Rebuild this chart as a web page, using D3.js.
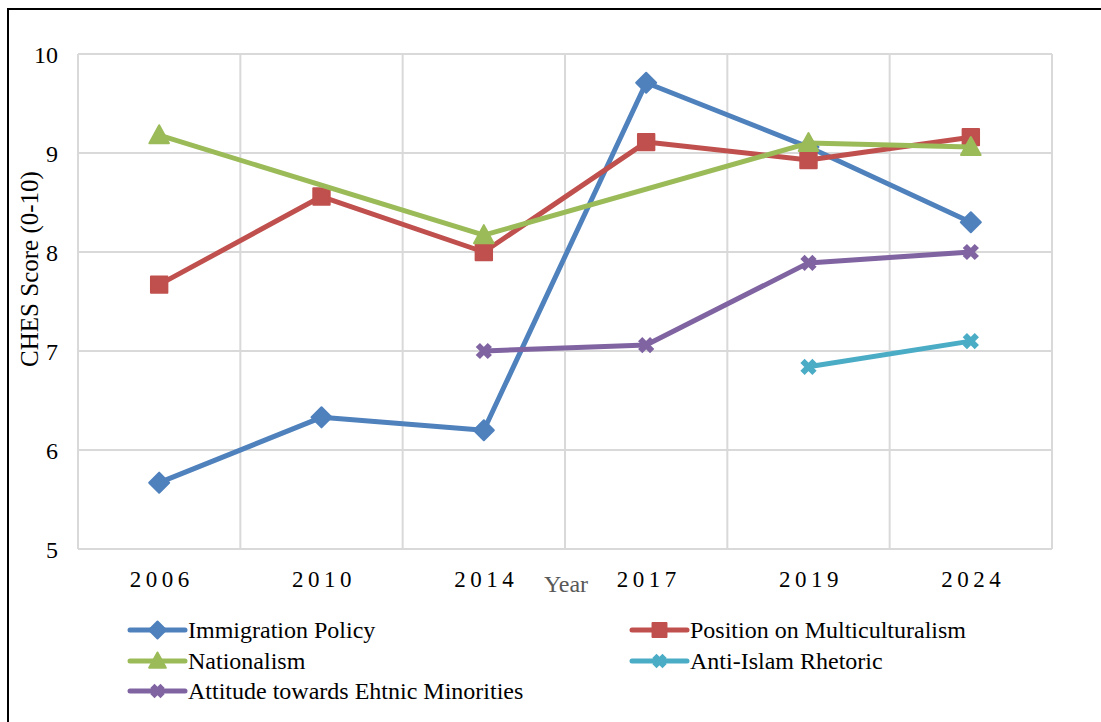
<!DOCTYPE html>
<html><head><meta charset="utf-8">
<script src="https://cdn.jsdelivr.net/npm/d3@7"></script>
<style>
html,body{margin:0;padding:0;background:#fff;}
svg{display:block;}
text{font-family:"Liberation Serif","Times New Roman",serif;}
</style></head>
<body>
<svg id="chart" width="1101" height="722"></svg>
<script>
const years = ["2006","2010","2014","2017","2019","2024"];
const seriesNames = ["Immigration Policy","Position on Multiculturalism","Nationalism","Anti-Islam Rhetoric","Attitude towards Ehtnic Minorities"];
const immigration = [5.67, 6.33, 6.20, 9.71, 9.06, 8.30];
const multiculturalism = [7.67, 8.56, 8.00, 9.11, 8.93, 9.16];
const nationalism = [9.18, null, 8.17, null, 9.10, 9.06];
const antiIslam = [null, null, null, null, 6.84, 7.10];
const ethnicMinorities = [null, null, 7.00, 7.06, 7.89, 8.00];
const yTicks = [5, 6, 7, 8, 9, 10];
const colors = ["#4F81BD","#C0504D","#9BBB59","#4BACC6","#8064A2"];
const shapes = ["diamond","square","triangle","x","x"];
const allValues = [immigration, multiculturalism, nationalism, antiIslam, ethnicMinorities];

const svg = d3.select("#chart");
const W = 1101, H = 722;
const plot = {left: 78, right: 1052, top: 54, bottom: 549};

// outer frame (left and top edges visible)
svg.append("rect").attr("x", 8).attr("y", 9).attr("width", W).attr("height", H)
  .attr("fill", "none").attr("stroke", "#000").attr("stroke-width", 2);

const x = d3.scaleBand().domain(years).range([plot.left, plot.right]).padding(0);
const y = d3.scaleLinear().domain([5, 10]).range([plot.bottom, plot.top]);
const cx = d => x(d) + x.bandwidth() / 2;

const grid = svg.append("g");
grid.selectAll("line.h").data(yTicks).join("line")
  .attr("x1", plot.left).attr("x2", plot.right)
  .attr("y1", d => y(d)).attr("y2", d => y(d))
  .attr("stroke", "#d9d9d9").attr("stroke-width", 2);
const vb = years.map(d => x(d)).concat([plot.right]);
grid.selectAll("line.v").data(vb).join("line")
  .attr("x1", d => d).attr("x2", d => d)
  .attr("y1", plot.top).attr("y2", plot.bottom)
  .attr("stroke", "#d9d9d9").attr("stroke-width", 2);

// Y axis labels
const yAxis = d3.axisLeft(y).tickValues(yTicks).tickSize(0).tickPadding(0).tickFormat(d3.format("d"));
const yg = svg.append("g").attr("transform", `translate(${plot.left - 20},0)`).call(yAxis);
yg.select(".domain").remove();
yg.selectAll("text").attr("font-size", 24).attr("fill", "#000")
  .attr("font-family", "Liberation Serif").attr("dy", "0.35em");

// X axis labels
const xAxis = d3.axisBottom(x).tickSize(0).tickPadding(0);
const xg = svg.append("g").attr("transform", `translate(2.5,${plot.bottom + 38})`).call(xAxis);
xg.select(".domain").remove();
xg.selectAll("text").attr("font-size", 23).attr("fill", "#000")
  .attr("font-family", "Liberation Serif").attr("letter-spacing", "4.5px").attr("dy", 0);

// axis titles
svg.append("text").attr("x", 566).attr("y", 592).attr("text-anchor", "middle")
  .attr("font-size", 24).attr("fill", "#595959").text("Year");
svg.append("text").attr("transform", "translate(38,269) rotate(-90)").attr("text-anchor", "middle")
  .attr("font-size", 25).attr("fill", "#000").text("CHES Score (0-10)");

function markerPath(shape, s) {
  if (shape === "diamond") return `M0,${-s}L${s},0L0,${s}L${-s},0Z`;
  if (shape === "square") return `M${-s*0.82},${-s*0.82}h${s*1.64}v${s*1.64}h${-s*1.64}Z`;
  if (shape === "triangle") return `M0,${-s*1.0}L${s*0.98},${s*0.8}L${-s*0.98},${s*0.8}Z`;
  return `M${-s*0.6},${-s*0.6}L${s*0.6},${s*0.6}M${s*0.6},${-s*0.6}L${-s*0.6},${s*0.6}`;
}
const styleMarker = (sel, s, size) => sel
  .attr("d", markerPath(s.shape, size))
  .attr("fill", s.shape === "x" ? "none" : s.color)
  .attr("stroke", s.color)
  .attr("stroke-width", s.shape === "x" ? 6 : 2)
  .attr("stroke-linejoin", "round");

const line = d3.line().x(d => cx(d.year)).y(d => y(d.v));
const series = allValues.map((vals, i) => ({
  name: seriesNames[i], color: colors[i], shape: shapes[i],
  pts: years.map((yr, j) => ({year: yr, v: vals[j]})).filter(p => p.v !== null)
}));

series.forEach(s => {
  const g = svg.append("g");
  g.append("path").attr("d", line(s.pts)).attr("fill", "none")
    .attr("stroke", s.color).attr("stroke-width", 5).attr("stroke-linejoin", "round");
  g.selectAll("path.m").data(s.pts).join("path")
    .attr("transform", p => `translate(${cx(p.year)},${y(p.v)})`)
    .call(styleMarker, s, 10);
});

// legend
const legendPos = [[130, 630], [632, 630], [130, 661], [632, 661], [130, 691]];
series.forEach((s, i) => {
  const [lx, ly] = legendPos[i];
  const g = svg.append("g").attr("transform", `translate(${lx},${ly})`);
  g.append("line").attr("x1", 0).attr("x2", 55).attr("y1", 0).attr("y2", 0)
    .attr("stroke", s.color).attr("stroke-width", 5).attr("stroke-linecap", "round");
  g.append("path").attr("transform", "translate(27.5,0)").call(styleMarker, s, 8.5);
  g.append("text").attr("x", 58).attr("y", 0).attr("dy", "0.35em")
    .attr("font-size", 24).attr("fill", "#000").text(s.name);
});
</script>
</body></html>
